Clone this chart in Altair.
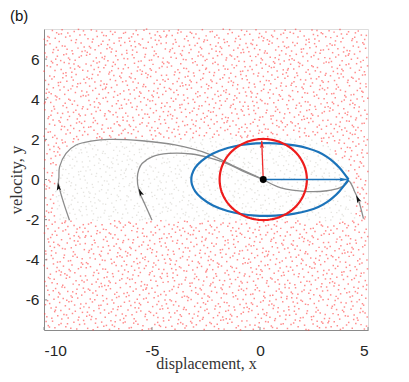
import altair as alt
import numpy as np
import pandas as pd

# ---------------- values ----------------
X_DOMAIN = [-10, 5]
Y_DOMAIN = [-7.5, 7.5]
X_TICKS = [-10, -5, 0, 5]
Y_TICKS = [-6, -4, -2, 0, 2, 4, 6]

# basin of attraction outline (grey samples inside, red outside)
BASIN_X = [-9.50, -9.50, -9.20, -8.60, -7.60, -5.00, -3.00, 0.00, 2.00, 3.00, 3.70, 4.20, 4.35, 4.45]
BASIN_Y = [-2.05, 0.40, 1.30, 1.80, 2.00, 2.00, 2.05, 2.10, 2.05, 1.85, 1.00, 0.20, -0.60, -2.05]

# trajectories
OUTER_X = [-8.82, -9.13, -9.33, -9.31, -9.28, -8.98, -8.52, -7.75, -6.99, -5.46, -3.93, -2.40, -1.18, 0.15]
OUTER_Y = [-2.03, -1.03, -0.20, 0.10, 0.63, 1.30, 1.72, 1.93, 2.00, 1.93, 1.72, 1.28, 0.65, 0.00]
INNER_X = [-5.00, -5.31, -5.61, -5.68, -5.61, -5.46, -5.00, -4.23, -3.17, -2.25, -1.50, -0.80, 0.15]
INNER_Y = [-2.03, -1.28, -0.53, 0.05, 0.50, 0.80, 1.13, 1.30, 1.27, 1.05, 0.78, 0.42, 0.00]
RIGHT_X = [4.79, 4.56, 4.40, 4.25, 4.12, 3.95, 3.72, 3.10, 2.19, 0.97, 0.15]
RIGHT_Y = [-1.95, -1.03, -0.65, -0.28, -0.08, -0.25, -0.40, -0.56, -0.60, -0.42, 0.00]

# trajectory arrowheads: x, y, direction (degrees clockwise from up)
HEAD_X = [-9.36, -5.61, 4.45]
HEAD_Y = [-0.15, -0.45, -0.78]
HEAD_ANGLE = [352, 337, 336]

# lemon-shaped (blue) boundary, upper half from tip to left end
LEMON_UX = [4.10, 3.88, 3.68, 3.40, 3.10, 2.70, 2.20, 1.60, 1.00, 0.40, -0.20, -0.87, -1.50, -2.20, -2.70, -3.00, -3.15, -3.18]
LEMON_UY = [0.00, 0.32, 0.58, 0.88, 1.13, 1.37, 1.56, 1.70, 1.78, 1.81, 1.80, 1.72, 1.57, 1.28, 0.93, 0.59, 0.25, 0.00]

# red circle
CIRCLE_CENTER = [0.15, 0.0]
CIRCLE_R = 2.02

# equilibrium point and the two arrows
ORIGIN = [0.15, 0.0]
RED_TIP = [0.08, 1.93]
BLUE_TIP = [4.02, 0.0]

N_SAMPLES = 3600

# ---------------- tables ----------------
def halton(n, base):
    out = np.zeros(n)
    for i in range(n):
        f, r, k = 1.0, 0.0, i + 1
        while k > 0:
            f /= base
            r += f * (k % base)
            k //= base
        out[i] = r
    return out

sx = X_DOMAIN[0] + (X_DOMAIN[1] - X_DOMAIN[0]) * halton(N_SAMPLES, 2)
sy = Y_DOMAIN[0] + (Y_DOMAIN[1] - Y_DOMAIN[0]) * halton(N_SAMPLES, 3)

def inside(px, py, polx, poly):
    polx = np.asarray(polx); poly = np.asarray(poly)
    res = np.zeros(len(px), dtype=bool)
    j = len(polx) - 1
    for i in range(len(polx)):
        xi, yi, xj, yj = polx[i], poly[i], polx[j], poly[j]
        cond = ((yi > py) != (yj > py)) & (px < (xj - xi) * (py - yi) / (yj - yi + 1e-12) + xi)
        res ^= cond
        j = i
    return res

ins = inside(sx, sy, BASIN_X, BASIN_Y)
samples = pd.DataFrame({"x": sx, "y": sy, "basin": np.where(ins, "in", "out")})

traj = pd.concat([
    pd.DataFrame({"x": OUTER_X, "y": OUTER_Y, "id": "outer", "o": range(len(OUTER_X))}),
    pd.DataFrame({"x": INNER_X, "y": INNER_Y, "id": "inner", "o": range(len(INNER_X))}),
    pd.DataFrame({"x": RIGHT_X, "y": RIGHT_Y, "id": "right", "o": range(len(RIGHT_X))}),
])
heads = pd.DataFrame({"x": HEAD_X, "y": HEAD_Y, "a": HEAD_ANGLE})

lx = LEMON_UX + LEMON_UX[::-1][1:]
ly = LEMON_UY + [-v for v in LEMON_UY[::-1][1:]]
lemon = pd.DataFrame({"x": lx, "y": ly, "o": range(len(lx))})

t = np.linspace(0, 2 * np.pi, 121)
circle = pd.DataFrame({"x": CIRCLE_CENTER[0] + CIRCLE_R * np.cos(t),
                       "y": CIRCLE_CENTER[1] + CIRCLE_R * np.sin(t),
                       "o": range(len(t))})

arrows = pd.DataFrame({"x": [ORIGIN[0], ORIGIN[0]], "y": [ORIGIN[1], ORIGIN[1]],
                       "x2": [RED_TIP[0], BLUE_TIP[0]], "y2": [RED_TIP[1], BLUE_TIP[1]],
                       "c": ["red", "blue"], "a": [358, 90]})

# ---------------- chart ----------------
xs = alt.Scale(domain=X_DOMAIN, nice=False, zero=False)
ys = alt.Scale(domain=Y_DOMAIN, nice=False, zero=False)

xax = alt.Axis(values=X_TICKS, title="displacement, x", grid=False, ticks=False, tickSize=0,
               labelExpr="toString(datum.value)", labelFont="Liberation Sans", labelFontSize=15.5,
               labelColor="#262626", labelPadding=13, titleFont="Liberation Serif",
               titleFontSize=16, titleFontWeight="normal", titleColor="#333333", titlePadding=-3,
               domainColor="#8a8a8a")
yax = alt.Axis(values=Y_TICKS, title="velocity, y", grid=False, ticks=False, tickSize=0,
               labelExpr="toString(datum.value)", labelFont="Liberation Sans", labelFontSize=15.5,
               labelColor="#262626", labelPadding=5, titleFont="Liberation Serif",
               titleFontSize=16.5, titleFontWeight="normal", titleColor="#333333", titlePadding=1,
               domainColor="#8a8a8a")

base_x = alt.X("x:Q", scale=xs, axis=xax)
base_y = alt.Y("y:Q", scale=ys, axis=yax)

red_pts = alt.Chart(samples).transform_filter("datum.basin == 'out'").mark_square(
    size=2.2, color="#ff4040", opacity=0.6).encode(x=base_x, y=base_y)
grey_pts = alt.Chart(samples).transform_filter("datum.basin == 'in'").mark_square(
    size=1.8, color="#d4d2cc", opacity=0.6).encode(x="x:Q", y="y:Q")

traj_lines = alt.Chart(traj).mark_line(color="#8c8c8c", strokeWidth=1.3, interpolate="catmull-rom").encode(
    x="x:Q", y="y:Q", detail="id:N", order="o:Q")

ARROW = "M0,0L0.55,2L0,1.55L-0.55,2Z"
head_marks = alt.Chart(heads).mark_point(shape=ARROW, filled=True, color="#111111", size=64, opacity=1).encode(
    x="x:Q", y="y:Q", angle=alt.Angle("a:Q", scale=None))

lemon_line = alt.Chart(lemon).mark_line(color="#1b73ba", strokeWidth=2.2, interpolate="catmull-rom").encode(
    x="x:Q", y="y:Q", order="o:Q")
circle_line = alt.Chart(circle).mark_line(color="#ee1c1c", strokeWidth=2.2).encode(
    x="x:Q", y="y:Q", order="o:Q")

col = alt.Color("c:N", scale=alt.Scale(domain=["red", "blue"], range=["#ee2a2a", "#1b73ba"]), legend=None)
arrow_shafts = alt.Chart(arrows).mark_rule(strokeWidth=1.3).encode(
    x="x:Q", y="y:Q", x2="x2:Q", y2="y2:Q", color=col)
arrow_heads = alt.Chart(arrows).mark_point(shape=ARROW, filled=True, size=56, opacity=1).encode(
    x="x2:Q", y="y2:Q", angle=alt.Angle("a:Q", scale=None), color=col)

eq_dot = alt.Chart(pd.DataFrame({"x": [ORIGIN[0]], "y": [ORIGIN[1]]})).mark_circle(
    size=48, color="#000000", opacity=1).encode(x="x:Q", y="y:Q")

yt = pd.DataFrame({"v": Y_TICKS})
xt = pd.DataFrame({"v": X_TICKS})
ytick = alt.Chart(yt).mark_rule(color="#8a8a8a", strokeWidth=1).encode(
    y="v:Q", x=alt.datum(-10), x2=alt.datum(-9.86))
xtick = alt.Chart(xt).mark_rule(color="#8a8a8a", strokeWidth=1).encode(
    x="v:Q", y=alt.datum(-7.5), y2=alt.datum(-7.35))

chart = alt.layer(
    red_pts, grey_pts, traj_lines, head_marks, lemon_line, circle_line,
    arrow_shafts, arrow_heads, eq_dot, ytick, xtick
).properties(
    width=324, height=301,
    autosize=alt.AutoSizeParams(type="none"),
    padding={"left": 36, "top": 21, "right": 20, "bottom": 50},
    title=alt.TitleParams(text="(b)", anchor="start", frame="group", dx=-34, offset=4, fontSize=15,
                          font="Liberation Sans", fontWeight="normal", color="#111111"),
).configure_view(stroke=None).configure(background="white")

chart.save("out.html", embed_options={"renderer": "svg", "actions": False})
